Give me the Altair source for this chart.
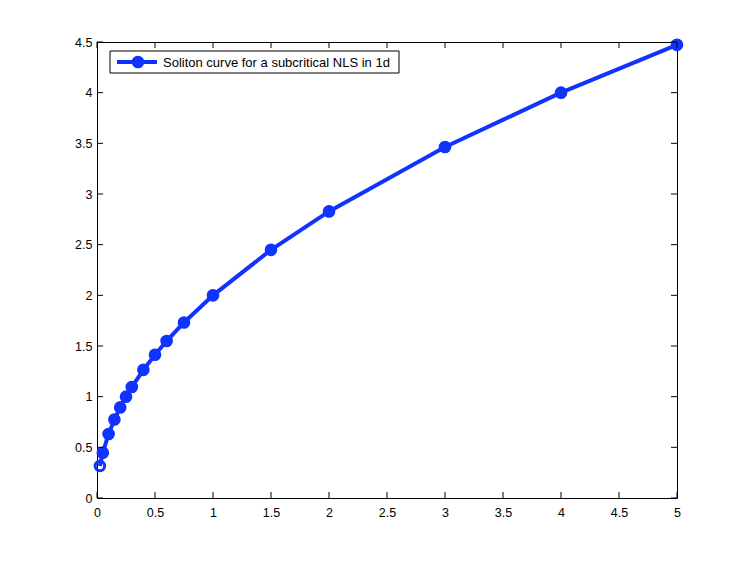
import altair as alt
import pandas as pd

# Data
xs = [0.025, 0.05, 0.1, 0.15, 0.2, 0.25, 0.3, 0.4, 0.5, 0.6, 0.75, 1, 1.5, 2, 3, 4, 5]
ys = [0.316, 0.447, 0.632, 0.775, 0.894, 1.0, 1.095, 1.265, 1.414, 1.549, 1.732,
      2.0, 2.449, 2.828, 3.464, 4.0, 4.472]
x_ticks = [0, 0.5, 1, 1.5, 2, 2.5, 3, 3.5, 4, 4.5, 5]
y_ticks = [0, 0.5, 1, 1.5, 2, 2.5, 3, 3.5, 4, 4.5]
legend_label = "Soliton curve for a subcritical NLS in 1d"

BLUE = "#1133ff"
FONT = "Liberation Sans"
W, H = 580, 456
TL = 6

df = pd.DataFrame({"x": xs, "y": ys})
df["first"] = [i == 0 for i in range(len(xs))]
dummy = pd.DataFrame({"a": [0]})

xscale = alt.Scale(domain=[0, 5], nice=False, zero=False)
yscale = alt.Scale(domain=[0, 4.5], nice=False, zero=False)

xaxis = alt.Axis(values=x_ticks, ticks=False, domain=False, grid=False,
                 labelFont=FONT, labelFontSize=12.5, labelColor="black",
                 labelPadding=8, title=None, labelFlush=False, format="~g",
                 labelOverlap=False)
yaxis = alt.Axis(values=y_ticks, ticks=False, domain=False, grid=False,
                 labelFont=FONT, labelFontSize=12.5, labelColor="black",
                 labelPadding=5, title=None, labelFlush=False, format="~g",
                 labelOverlap=False)

base = alt.Chart(df).encode(
    x=alt.X("x:Q", scale=xscale, axis=xaxis, title=None),
    y=alt.Y("y:Q", scale=yscale, axis=yaxis, title=None),
)

line = base.mark_line(color=BLUE, strokeWidth=4)
pts = base.transform_filter("!datum.first").mark_point(
    filled=True, color=BLUE, size=160, opacity=1)
first_pt = base.transform_filter("datum.first").mark_point(
    filled=False, color=BLUE, size=90, strokeWidth=3, opacity=1)

xt = pd.DataFrame({"t": x_ticks})
yt = pd.DataFrame({"t": y_ticks})
xt_enc = alt.X("t:Q", scale=xscale, axis=xaxis, title=None)
yt_enc = alt.Y("t:Q", scale=yscale, axis=yaxis, title=None)

tick_bottom = alt.Chart(xt).mark_rule(color="black", strokeWidth=1).encode(
    x=xt_enc, y=alt.value(H), y2=alt.value(H - TL))
tick_top = alt.Chart(xt).mark_rule(color="black", strokeWidth=1).encode(
    x=xt_enc, y=alt.value(0), y2=alt.value(TL))
tick_left = alt.Chart(yt).mark_rule(color="black", strokeWidth=1).encode(
    y=yt_enc, x=alt.value(0), x2=alt.value(TL))
tick_right = alt.Chart(yt).mark_rule(color="black", strokeWidth=1).encode(
    y=yt_enc, x=alt.value(W), x2=alt.value(W - TL))

leg_box = alt.Chart(dummy).mark_rect(fill="white", stroke="black", strokeWidth=1).encode(
    x=alt.value(13), x2=alt.value(302), y=alt.value(9), y2=alt.value(31))
leg_line = alt.Chart(dummy).mark_rule(color=BLUE, strokeWidth=4).encode(
    x=alt.value(20), x2=alt.value(60), y=alt.value(20))
leg_pt = alt.Chart(dummy).mark_point(filled=True, color=BLUE, size=160, opacity=1).encode(
    x=alt.value(41), y=alt.value(20))
leg_text = alt.Chart(dummy).mark_text(
    align="left", baseline="middle", font=FONT, fontSize=13, color="black").encode(
    x=alt.value(66), y=alt.value(20.5), text=alt.value(legend_label))

chart = alt.layer(
    line, pts, first_pt,
    tick_bottom, tick_top, tick_left, tick_right,
    leg_box, leg_line, leg_pt, leg_text,
).properties(
    width=W, height=H,
    autosize=alt.AutoSizeParams(type="none"),
    padding={"left": 89, "top": 34, "right": 62, "bottom": 55},
    background="white",
).configure_view(stroke="black", strokeWidth=1)

chart.save("out.html", embed_options={"renderer": "svg", "actions": False})
